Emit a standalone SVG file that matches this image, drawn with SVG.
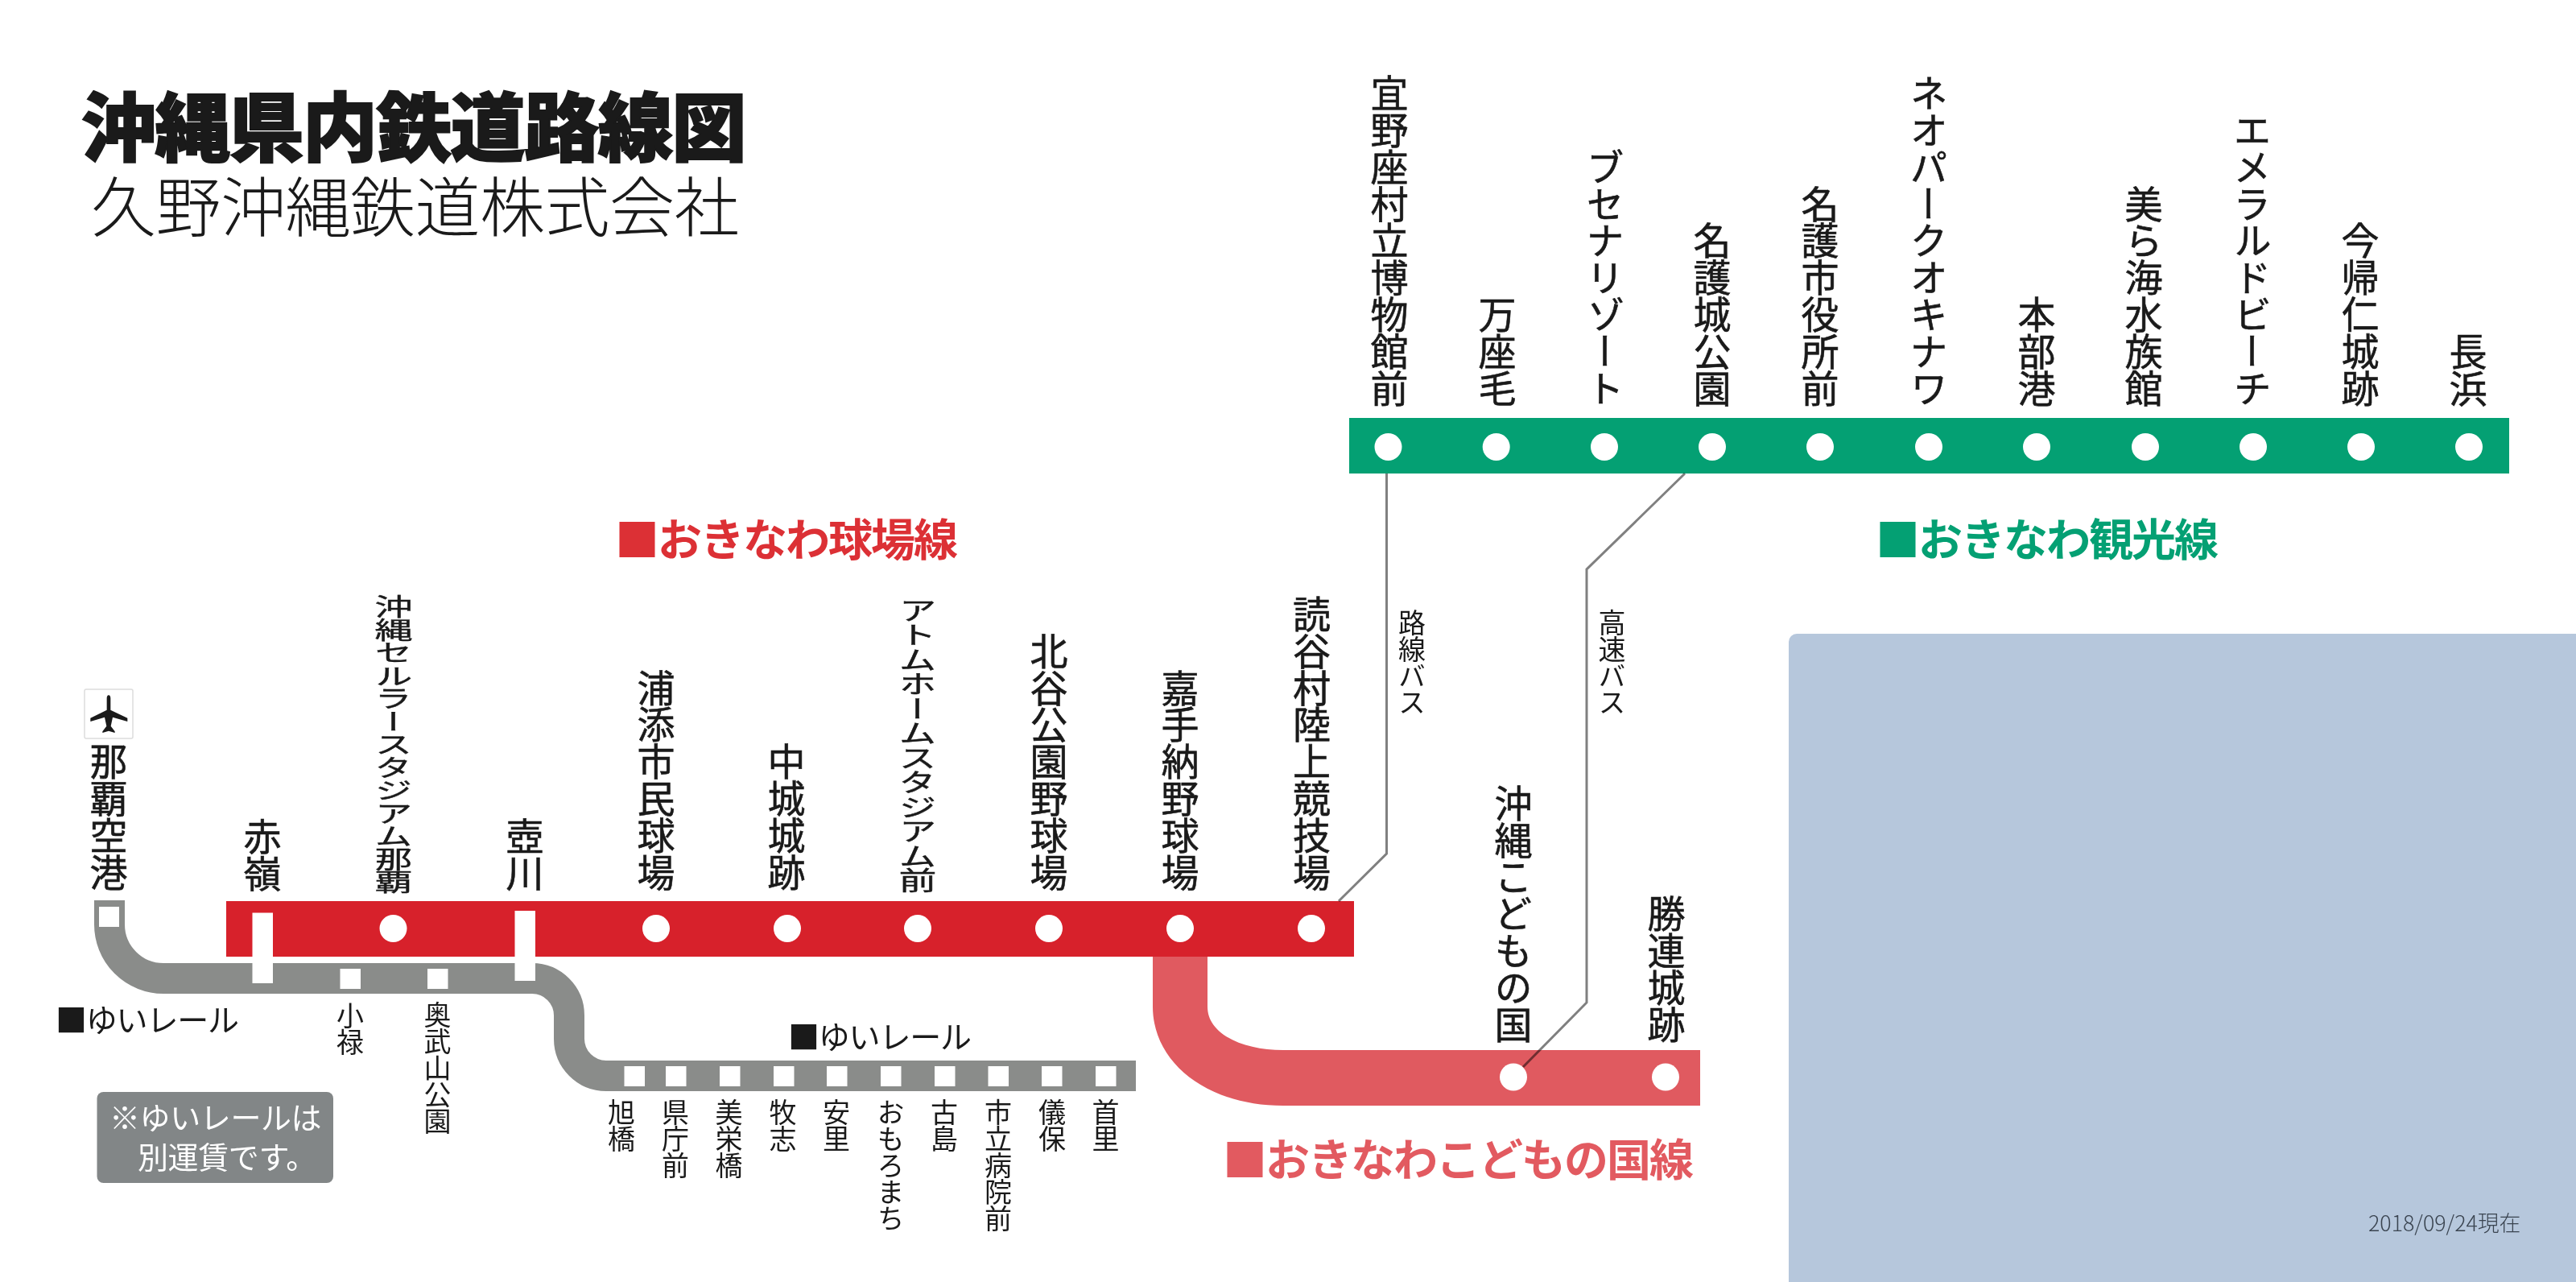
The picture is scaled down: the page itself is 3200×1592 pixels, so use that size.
<svg xmlns="http://www.w3.org/2000/svg" width="3200" height="1592" viewBox="0 0 3200 1592">
<style>
text{font-family:"Noto Sans CJK JP","Noto Sans",sans-serif;fill:#1a1a1a}
.s{fill:#fff}
.v{writing-mode:vertical-rl;font-size:47px;letter-spacing:-1.200px;text-anchor:end;stroke:#1a1a1a;stroke-width:.6px}
.y{writing-mode:vertical-rl;font-size:34px;letter-spacing:-1px;text-anchor:start}
.b{writing-mode:vertical-rl;font-size:34px;letter-spacing:-1px;text-anchor:start}
.leg{font-size:55px;letter-spacing:-2px;font-weight:700}
.yl{font-size:39px;letter-spacing:-1.200px}
.note{font-size:38px;letter-spacing:-.400px;fill:#fff}
.bus{fill:none;stroke:#808080;stroke-width:3;mix-blend-mode:multiply}
</style>
<rect width="3200" height="1592" fill="#fff"/>
<rect id="sea" x="2222" y="787" width="1000" height="830" rx="10" fill="#b6c7dc"/>
<g id="title">
<text x="101" y="193" font-size="93" letter-spacing="-1.300" font-weight="900" stroke="#1a1a1a" stroke-width="2">沖縄県内鉄道路線図</text>
<text x="113" y="287" font-size="81" letter-spacing="-.500" font-weight="300">久野沖縄鉄道株式会社</text>
</g>
<g id="lines">
<path id="line-yui" d="M136 1118V1148A67 67 0 0 0 203 1215H661A46 46 0 0 1 707 1261V1290A46 46 0 0 0 753 1336H1411" fill="none" stroke="#8a8c8a" stroke-width="38"/>
<path id="line-kodomo" d="M1432 1188H1500V1250C1500 1285 1545 1304 1594 1304H2112V1373H1594C1500 1373 1432 1320 1432 1250Z" fill="#e05a60"/>
<rect id="line-stadium" x="281" y="1119" width="1401" height="69" fill="#d7212b"/>
<rect id="line-kanko" x="1676" y="519" width="1441" height="69" fill="#04a073"/>
</g>
<g id="connectors">
<path class="bus" d="M1722.500 588V1060L1663 1119"/>
<path class="bus" d="M2093 588L1971 707V1245L1892 1325"/>
</g>
<g id="bus-labels">
<text class="b" x="1754" y="756">路線バス</text>
<text class="b" x="2002.500" y="756">高速バス</text>
</g>
<g id="airplane">
<rect x="105" y="856" width="60" height="61" rx="2" fill="#fff" stroke="#ddd" stroke-width="1.500"/>
<path transform="translate(90 840) scale(.3333)" d="M135 70C140 70 142 75 142 82L142 125L205 155L205 168L150 152L143 185L158 205L158 210L135 203L112 210L112 205L127 185L120 152L67 168L67 155L128 125L128 82C128 75 130 70 135 70Z" fill="#1a1a1a"/>
</g>
<g id="st-naha"><rect class="s" x="123" y="1126" width="25" height="25"/><text class="v" x="135" y="1105">那覇空港</text></g>
<g id="st-akamine"><rect class="s" x="313.500" y="1133.500" width="25.500" height="87.500"/><text class="v" x="326" y="1106">赤嶺</text></g>
<g id="st-cellular"><circle class="s" cx="488.500" cy="1153" r="17"/><text class="v" transform="translate(489 1109) scale(1 .622)" x="0" y="0">沖縄セルラースタジアム那覇</text></g>
<g id="st-tsubogawa"><rect class="s" x="639.500" y="1131" width="25.500" height="87"/><text class="v" x="652" y="1106">壺川</text></g>
<g id="st-urasoe"><circle class="s" cx="815" cy="1153" r="17"/><text class="v" x="815" y="1105">浦添市民球場</text></g>
<g id="st-nakagusuku"><circle class="s" cx="978" cy="1153" r="17"/><text class="v" x="977" y="1105">中城城跡</text></g>
<g id="st-atom"><circle class="s" cx="1140" cy="1153" r="17"/><text class="v" transform="translate(1140 1108) scale(1 .666)" x="0" y="0">アトムホームスタジアム前</text></g>
<g id="st-chatan"><circle class="s" cx="1303" cy="1153" r="17"/><text class="v" x="1303" y="1105">北谷公園野球場</text></g>
<g id="st-kadena"><circle class="s" cx="1466" cy="1153" r="17"/><text class="v" x="1466" y="1105">嘉手納野球場</text></g>
<g id="st-yomitan"><circle class="s" cx="1629" cy="1153" r="17"/><text class="v" x="1629.500" y="1105">読谷村陸上競技場</text></g>
<g id="st-kodomo"><circle class="s" cx="1880" cy="1337.500" r="17"/><text class="v" x="1880" y="1294">沖縄こどもの国</text></g>
<g id="st-katsuren"><circle class="s" cx="2069" cy="1337.500" r="17"/><text class="v" x="2070" y="1294">勝連城跡</text></g>
<g id="st-ginoza"><circle class="s" cx="1724.500" cy="555" r="17"/><text class="v" x="1726" y="504">宜野座村立博物館前</text></g>
<g id="st-manza"><circle class="s" cx="1858.700" cy="555" r="17"/><text class="v" x="1860" y="504">万座毛</text></g>
<g id="st-busena"><circle class="s" cx="1993" cy="555" r="17"/><text class="v" x="1994" y="504">ブセナリゾート</text></g>
<g id="st-nagojo"><circle class="s" cx="2127" cy="555" r="17"/><text class="v" x="2127" y="504">名護城公園</text></g>
<g id="st-nagoshi"><circle class="s" cx="2261" cy="555" r="17"/><text class="v" x="2261" y="504">名護市役所前</text></g>
<g id="st-neopark"><circle class="s" cx="2396" cy="555" r="17"/><text class="v" x="2396" y="504">ネオパークオキナワ</text></g>
<g id="st-motobu"><circle class="s" cx="2530" cy="555" r="17"/><text class="v" x="2530" y="504">本部港</text></g>
<g id="st-churaumi"><circle class="s" cx="2665" cy="555" r="17"/><text class="v" x="2663" y="504">美ら海水族館</text></g>
<g id="st-emerald"><circle class="s" cx="2799" cy="555" r="17"/><text class="v" x="2798" y="504">エメラルドビーチ</text></g>
<g id="st-nakijin"><circle class="s" cx="2933" cy="555" r="17"/><text class="v" x="2932" y="504">今帰仁城跡</text></g>
<g id="st-nagahama"><circle class="s" cx="3067" cy="555" r="17"/><text class="v" x="3066" y="504">長浜</text></g>
<g id="st-oroku"><rect class="s" x="422.500" y="1203" width="25.500" height="25"/><text class="y" x="435" y="1244">小禄</text></g>
<g id="st-onoyama"><rect class="s" x="531" y="1203" width="25.500" height="25"/><text class="y" x="543.500" y="1243">奥武山公園</text></g>
<g id="st-asahibashi"><rect class="s" x="775.500" y="1324" width="25.500" height="25"/><text class="y" x="772" y="1364">旭橋</text></g>
<g id="st-kencho"><rect class="s" x="827" y="1324" width="25.500" height="25"/><text class="y" x="839" y="1364">県庁前</text></g>
<g id="st-miebashi"><rect class="s" x="894" y="1324" width="25.500" height="25"/><text class="y" x="905.500" y="1364">美栄橋</text></g>
<g id="st-makishi"><rect class="s" x="961" y="1324" width="25.500" height="25"/><text class="y" x="972.500" y="1364">牧志</text></g>
<g id="st-asato"><rect class="s" x="1027" y="1324" width="25.500" height="25"/><text class="y" x="1039" y="1364">安里</text></g>
<g id="st-omoromachi"><rect class="s" x="1094" y="1324" width="25.500" height="25"/><text class="y" x="1106.500" y="1364">おもろまち</text></g>
<g id="st-furujima"><rect class="s" x="1161" y="1324" width="25.500" height="25"/><text class="y" x="1173" y="1364">古島</text></g>
<g id="st-shiritsu"><rect class="s" x="1227.500" y="1324" width="25.500" height="25"/><text class="y" x="1240" y="1364">市立病院前</text></g>
<g id="st-gibo"><rect class="s" x="1294" y="1324" width="25.500" height="25"/><text class="y" x="1307" y="1364">儀保</text></g>
<g id="st-shuri"><rect class="s" x="1361" y="1324" width="25.500" height="25"/><text class="y" x="1373.500" y="1364">首里</text></g>
<g id="legends">
<text class="leg" x="764" y="690" style="fill:#dc3035">■おきなわ球場線</text>
<text class="leg" x="2330" y="690" style="fill:#04a073">■おきなわ観光線</text>
<text class="leg" x="1519" y="1460" style="fill:#e25a60">■おきなわこどもの国線</text>
<text class="yl" x="69" y="1281">■ゆいレール</text>
<text class="yl" x="979" y="1302">■ゆいレール</text>
</g>
<g id="note">
<rect x="120.500" y="1356" width="293.500" height="113" rx="8" fill="#828687"/>
<text class="note" x="136" y="1402">※ゆいレールは</text>
<text class="note" x="171" y="1451">別運賃です。</text>
</g>
<text id="date" x="2942" y="1529" font-size="26.800" font-weight="300" style="fill:#3a4450">2018/09/24現在</text>
</svg>
